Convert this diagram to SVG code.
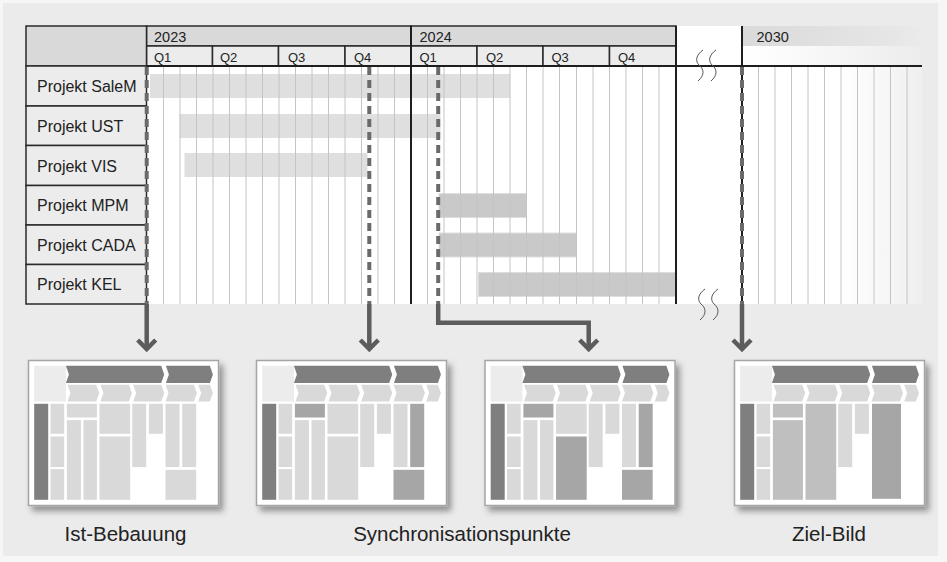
<svg xmlns="http://www.w3.org/2000/svg" width="947" height="562" viewBox="0 0 947 562">
<defs>
<style>
text{font-family:"Liberation Sans",Arial,sans-serif;fill:#222}
.lbl{font-size:16px}
.yr{font-size:14.5px}
.q{font-size:13px}
.cap{font-size:20.5px;text-anchor:middle}
.hdr{fill:#d9d9d9;stroke:#2a2a2a;stroke-width:1.5}
.qc{fill:#ececec;stroke:#2a2a2a;stroke-width:1.5}
.row{fill:#ececec;stroke:#2a2a2a;stroke-width:1.5}
.grid{stroke:#c4c4c4;stroke-width:1;fill:none}
.blk{stroke:#1e1e1e;stroke-width:2;fill:none}
.bar1{fill:#dfdfdf}
.bar2{fill:#c9c9c9;stroke:#dedede;stroke-width:1}
.dash{stroke:#6a6a6a;stroke-width:4;stroke-dasharray:8 5;fill:none}
.sol{stroke:#5c5c5c;stroke-width:4.5;fill:none;stroke-linejoin:miter}
.sq{stroke:#555;stroke-width:1;fill:none}
.card{fill:#fff;stroke:#a5a5a5;stroke-width:1.5}
.dk{fill:#7f7f7f}
.lt{fill:#d9d9d9}
.md{fill:#bfbfbf}
.dd{fill:#a6a6a6}
.tl{fill:#ececec}
</style>
<linearGradient id="band30" x1="742" y1="0" x2="930" y2="0" gradientUnits="userSpaceOnUse">
<stop offset="0" stop-color="#dadada"/><stop offset="0.8" stop-color="#e6e6e6"/><stop offset="1" stop-color="#ececec"/>
</linearGradient>
<linearGradient id="row30" x1="742" y1="0" x2="922" y2="0" gradientUnits="userSpaceOnUse">
<stop offset="0" stop-color="#ffffff"/><stop offset="0.4" stop-color="#f8f8f8"/><stop offset="1" stop-color="#ececec"/>
</linearGradient>
<linearGradient id="body30" x1="742" y1="0" x2="922" y2="0" gradientUnits="userSpaceOnUse">
<stop offset="0" stop-color="#ffffff"/><stop offset="0.55" stop-color="#ffffff"/><stop offset="1" stop-color="#efefef"/>
</linearGradient>
<filter id="sh" x="-10%" y="-10%" width="125%" height="130%">
<feDropShadow dx="4" dy="5" stdDeviation="3" flood-color="#000" flood-opacity="0.38"/>
</filter>
<marker id="chev" markerUnits="userSpaceOnUse" viewBox="-14 -12 20 24" markerWidth="20" markerHeight="24" refX="0" refY="0" orient="auto">
<path d="M -9,-9 L 0,0 L -9,9" fill="none" stroke="#5c5c5c" stroke-width="4.5"/>
</marker>
<g id="chevs">
<rect class="tl" x="5.7" y="5.3" width="31.7" height="35.7"/>
<polygon class="dk" points="37.4,5.3 132.7,5.3 135.7,14 132.7,22.6 37.4,22.6 40.4,14"/>
<polygon class="dk" points="137.4,5.3 181.4,5.3 184.4,14 181.4,22.6 137.4,22.6 140.4,14"/>
<polygon class="lt" points="39,24.3 67.7,24.3 70.7,32.6 67.7,41 39,41 42,32.6"/>
<polygon class="lt" points="72,24.3 100.4,24.3 103.4,32.6 100.4,41 72,41 75,32.6"/>
<polygon class="lt" points="104.7,24.3 132.7,24.3 135.7,32.6 132.7,41 104.7,41 107.7,32.6"/>
<polygon class="lt" points="137,24.3 165.4,24.3 168.4,32.6 165.4,41 137,41 140,32.6"/>
<polygon class="lt" points="169.7,24.3 181.4,24.3 184.4,32.6 181.4,41 169.7,41 172.7,32.6"/>
<rect class="dk" x="5.7" y="43.3" width="14" height="96"/>
<rect class="lt" x="22" y="43.3" width="13.7" height="30"/>
<rect class="lt" x="22" y="76" width="13.7" height="30.6"/>
<rect class="lt" x="22" y="108.6" width="13.7" height="30.7"/>
</g>
</defs>

<rect x="0" y="0" width="947" height="562" fill="#f6f6f6"/>
<rect x="3" y="3" width="935" height="553" fill="#ebebeb"/>

<g id="timeline">
<rect x="146.5" y="66" width="529.5" height="238" fill="#fff"/>
<rect x="676" y="26" width="66" height="278" fill="#fff"/>
<rect x="742" y="26" width="188" height="20" fill="url(#band30)"/>
<rect x="742" y="46" width="180" height="20" fill="url(#row30)"/>
<rect x="742" y="66" width="180" height="238" fill="url(#body30)"/>

<rect class="hdr" x="146.5" y="26" width="264.5" height="20"/>
<rect class="hdr" x="411" y="26" width="265" height="20"/>
<rect class="qc" x="146.5" y="46" width="66" height="20"/>
<rect class="qc" x="212.5" y="46" width="66" height="20"/>
<rect class="qc" x="278.5" y="46" width="66.5" height="20"/>
<rect class="qc" x="345" y="46" width="66" height="20"/>
<rect class="qc" x="411" y="46" width="66" height="20"/>
<rect class="qc" x="477" y="46" width="66" height="20"/>
<rect class="qc" x="543" y="46" width="66.5" height="20"/>
<rect class="qc" x="609.5" y="46" width="66.5" height="20"/>
<text class="yr" x="154" y="42">2023</text>
<text class="yr" x="419.5" y="42">2024</text>
<text class="yr" x="756.5" y="42">2030</text>
<text class="q" x="154" y="62">Q1</text>
<text class="q" x="220" y="62">Q2</text>
<text class="q" x="288" y="62">Q3</text>
<text class="q" x="354" y="62">Q4</text>
<text class="q" x="419.5" y="62">Q1</text>
<text class="q" x="486" y="62">Q2</text>
<text class="q" x="551.5" y="62">Q3</text>
<text class="q" x="618" y="62">Q4</text>

<rect class="bar1" x="150" y="74" width="360" height="24"/>
<rect class="bar1" x="179.5" y="114" width="261" height="24"/>
<rect class="bar1" x="184.5" y="153" width="183" height="24"/>
<rect class="bar2" x="439" y="193.5" width="87.5" height="24"/>
<rect class="bar2" x="439" y="233" width="137.5" height="24"/>
<rect class="bar2" x="478.5" y="272.5" width="197.5" height="24"/>

<path class="grid" d="M163.5 66V304M180 66V304M196.5 66V304M213 66V304M229.5 66V304M246 66V304M262.5 66V304M279 66V304M295.5 66V304M312 66V304M328.5 66V304M345 66V304M361.5 66V304M378 66V304M394.5 66V304M427.5 66V304M444 66V304M460.5 66V304M477 66V304M493.5 66V304M510 66V304M526.5 66V304M543 66V304M559.5 66V304M576.5 66V304M593 66V304M609.5 66V304M626 66V304M642.5 66V304M659 66V304M758.5 66V304M775 66V304M791.5 66V304M808 66V304M824.5 66V304M841 66V304M857.5 66V304M874 66V304M890.5 66V304M907 66V304"/>
<path class="blk" d="M411 26V304M676 26V304M742 26V304M146.5 66H922"/>

<path class="sq" d="M703 50C696 55 695 61 699 65C704 69 705 75 698 81"/>
<path class="sq" d="M716 50C709 55 708 61 712 65C717 69 718 75 711 81"/>
<path class="sq" d="M705 289C698 294 697 300 701 304C706 308 707 314 700 320"/>
<path class="sq" d="M718 289C711 294 710 300 714 304C719 308 720 314 713 320"/>
</g>

<g id="labels">
<rect x="26" y="26" width="120.5" height="40" class="hdr"/>
<g id="row-salem"><rect class="row" x="26" y="66" width="120.5" height="40"/><text class="lbl" x="37" y="92">Projekt SaleM</text></g>
<g id="row-ust"><rect class="row" x="26" y="106" width="120.5" height="39.5"/><text class="lbl" x="37" y="132">Projekt UST</text></g>
<g id="row-vis"><rect class="row" x="26" y="145.5" width="120.5" height="40"/><text class="lbl" x="37" y="171.5">Projekt VIS</text></g>
<g id="row-mpm"><rect class="row" x="26" y="185.5" width="120.5" height="39.5"/><text class="lbl" x="37" y="211">Projekt MPM</text></g>
<g id="row-cada"><rect class="row" x="26" y="225" width="120.5" height="39.5"/><text class="lbl" x="37" y="250.5">Projekt CADA</text></g>
<g id="row-kel"><rect class="row" x="26" y="264.5" width="120.5" height="39.5"/><text class="lbl" x="37" y="290">Projekt KEL</text></g>
</g>

<g id="connectors">
<path class="dash" d="M146.7 67V304"/>
<path class="dash" d="M369.3 67V304"/>
<path class="dash" d="M438.2 67V304"/>
<path class="dash" d="M742 67V304"/>
<path class="sol" d="M146.7 304V349" marker-end="url(#chev)"/>
<path class="sol" d="M369.3 304V349" marker-end="url(#chev)"/>
<path class="sol" d="M438.2 304V322.7H588.7V349" marker-end="url(#chev)"/>
<path class="sol" d="M742 304V349" marker-end="url(#chev)"/>
</g>

<g id="card-ist" transform="translate(28.5 360.5)">
<rect class="card" x="0" y="0" width="190" height="145" filter="url(#sh)"/>
<use href="#chevs"/>
<rect class="lt" x="38.4" y="43.3" width="30" height="13.7"/>
<rect class="lt" x="38.4" y="59.6" width="14" height="79.7"/>
<rect class="lt" x="55" y="59.6" width="13.4" height="79.7"/>
<rect class="lt" x="71" y="43.3" width="30.7" height="30"/>
<rect class="lt" x="71" y="76" width="30.7" height="63.3"/>
<rect class="lt" x="103.7" y="43.3" width="14" height="63.3"/>
<rect class="lt" x="120.4" y="43.3" width="14" height="30"/>
<rect class="lt" x="137" y="43.3" width="14" height="63.3"/>
<rect class="lt" x="153.7" y="43.3" width="14" height="63.3"/>
<rect class="lt" x="137" y="109.3" width="30.7" height="30"/>
</g>

<g id="card-sync1" transform="translate(256.5 360.5)">
<rect class="card" x="0" y="0" width="190" height="145" filter="url(#sh)"/>
<use href="#chevs"/>
<rect class="dd" x="38.4" y="43.3" width="30" height="13.7"/>
<rect class="lt" x="38.4" y="59.6" width="14" height="79.7"/>
<rect class="lt" x="55" y="59.6" width="13.4" height="79.7"/>
<rect class="lt" x="71" y="43.3" width="30.7" height="30"/>
<rect class="lt" x="71" y="76" width="30.7" height="63.3"/>
<rect class="lt" x="103.7" y="43.3" width="14" height="63.3"/>
<rect class="lt" x="120.4" y="43.3" width="14" height="30"/>
<rect class="lt" x="137" y="43.3" width="14" height="63.3"/>
<rect class="dd" x="153.7" y="43.3" width="14" height="63.3"/>
<rect class="dd" x="137" y="109.3" width="30.7" height="30"/>
</g>

<g id="card-sync2" transform="translate(485 360.5)">
<rect class="card" x="0" y="0" width="190" height="145" filter="url(#sh)"/>
<use href="#chevs"/>
<rect class="dd" x="38.4" y="43.3" width="30" height="13.7"/>
<rect class="lt" x="38.4" y="59.6" width="14" height="79.7"/>
<rect class="lt" x="55" y="59.6" width="13.4" height="79.7"/>
<rect class="lt" x="71" y="43.3" width="30.7" height="30"/>
<rect class="dd" x="71" y="76" width="30.7" height="63.3"/>
<rect class="lt" x="103.7" y="43.3" width="14" height="63.3"/>
<rect class="lt" x="120.4" y="43.3" width="14" height="30"/>
<rect class="lt" x="137" y="43.3" width="14" height="63.3"/>
<rect class="dd" x="153.7" y="43.3" width="14" height="63.3"/>
<rect class="dd" x="137" y="109.3" width="30.7" height="30"/>
</g>

<g id="card-ziel" transform="translate(734.5 360.5)">
<rect class="card" x="0" y="0" width="190" height="145" filter="url(#sh)"/>
<use href="#chevs"/>
<rect class="md" x="38.4" y="43.3" width="30" height="13.7"/>
<rect class="md" x="38.4" y="59.6" width="30" height="79.7"/>
<rect class="md" x="71" y="43.3" width="30.7" height="96"/>
<rect class="lt" x="103.7" y="43.3" width="14" height="63.3"/>
<rect class="lt" x="120.4" y="43.3" width="14" height="30"/>
<rect class="dd" x="137.5" y="43.3" width="29" height="95"/>
</g>

<g id="captions">
<text class="cap" x="125.5" y="541">Ist-Bebauung</text>
<text class="cap" x="462" y="541">Synchronisationspunkte</text>
<text class="cap" x="829" y="541">Ziel-Bild</text>
</g>
</svg>
